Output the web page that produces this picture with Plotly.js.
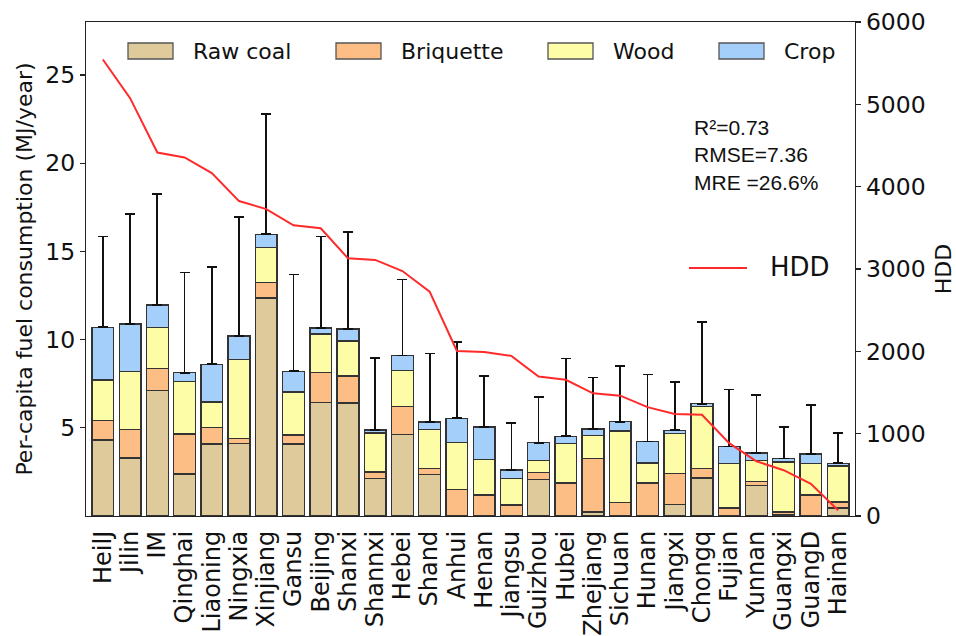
<!DOCTYPE html>
<html>
<head>
<meta charset="utf-8">
<script src="https://cdn.plot.ly/plotly-3.0.1.min.js"></script>
<style>
  html, body { margin: 0; padding: 0; background: #ffffff; }
  #chart { width: 956px; height: 636px; }
</style>
</head>
<body>
<div id="chart"></div>
<script>
// Provinces, ordered by heating degree days (coldest first)
const provinces = ['HeilJ', 'Jilin', 'IM', 'Qinghai', 'Liaoning', 'Ningxia', 'Xinjiang', 'Gansu',
  'Beijing', 'Shanxi', 'Shannxi', 'Hebei', 'Shand', 'Anhui', 'Henan', 'Jiangsu', 'Guizhou',
  'Hubei', 'Zhejiang', 'Sichuan', 'Hunan', 'Jiangxi', 'Chongq', 'Fujian', 'Yunnan', 'Guangxi',
  'GuangD', 'Hainan'];

// Per-capita fuel consumption by fuel type (MJ/year), stacked
const rawCoal = [4.31, 3.28, 7.13, 2.38, 4.07, 4.12, 12.35, 4.07, 6.45, 6.41, 2.14, 4.62, 2.35, 0,
  0.04, 0, 2.07, 0, 0.22, 0, 0, 0.65, 2.16, 0, 1.73, 0.05, 0, 0.46];
const briquette = [1.11, 1.64, 1.22, 2.26, 0.95, 0.29, 0.88, 0.53, 1.67, 1.52, 0.36, 1.57, 0.34, 1.50,
  1.16, 0.63, 0.41, 1.88, 3.04, 0.75, 1.88, 1.76, 0.53, 0.46, 0.24, 0.17, 1.18, 0.34];
const wood = [2.30, 3.28, 2.32, 2.99, 1.45, 4.46, 1.98, 2.42, 2.19, 2.00, 2.20, 2.05, 2.21, 2.68,
  2.00, 1.49, 0.68, 2.23, 1.30, 4.06, 1.13, 2.26, 3.50, 2.51, 1.19, 2.85, 1.79, 2.04];
const crop = [2.98, 2.68, 1.30, 0.49, 2.13, 1.33, 0.76, 1.18, 0.35, 0.67, 0.18, 0.85, 0.42, 1.36,
  1.85, 0.48, 0.99, 0.41, 0.38, 0.53, 1.21, 0.19, 0.17, 0.97, 0.42, 0.19, 0.55, 0.15];

// Upper error of the total consumption
const totalError = [5.15, 6.22, 6.30, 5.68, 5.53, 6.73, 6.82, 5.49, 5.18, 5.49, 4.07, 4.31, 3.89, 4.33,
  2.87, 2.68, 2.60, 4.40, 2.91, 3.16, 3.80, 2.72, 4.64, 3.23, 3.27, 1.79, 2.76, 1.72];

// Heating degree days per province
const hdd = [5545, 5075, 4415, 4355, 4165, 3825, 3728, 3530, 3495, 3130, 3110, 2975, 2725, 2005,
  1993, 1945, 1695, 1655, 1490, 1462, 1322, 1240, 1230, 885, 665, 556, 392, 70];

const fuelNames = ['Raw coal', 'Briquette', 'Wood', 'Crop'];
const fuelSeries = [rawCoal, briquette, wood, crop];
const fuelColors = ['#dfca9b', '#fdbe86', '#fdfda8', '#a4cffa'];

const leftTicks = [5, 10, 15, 20, 25];
const rightTicks = [0, 1000, 2000, 3000, 4000, 5000, 6000];
const statsLines = ['R\u00b2=0.73', 'RMSE=7.36', 'MRE =26.6%'];

// Plot frame in pixels
const W = 956, H = 636;
const M = { l: 86, r: 101, t: 22, b: 120 };
const plotW = W - M.l - M.r, plotH = H - M.t - M.b;
const px = x => (x - M.l) / plotW;
const py = y => (H - M.b - y) / plotH;

const edge = '#333333';
const font = 'DejaVu Sans, sans-serif';
const ink = '#111111';

const traces = fuelSeries.map((vals, i) => {
  const t = {
    type: 'bar',
    name: fuelNames[i],
    x: provinces,
    y: vals,
    marker: { color: fuelColors[i], line: { color: edge, width: 1.4 } },
    showlegend: false,
    hoverinfo: 'skip'
  };
  if (i === fuelSeries.length - 1) {
    t.error_y = {
      type: 'data', symmetric: false,
      array: totalError, arrayminus: totalError.map(() => 0),
      color: ink, thickness: 1.7, width: 5
    };
  }
  return t;
});

traces.push({
  type: 'scatter', mode: 'lines', name: 'HDD',
  x: provinces, y: hdd, yaxis: 'y2',
  line: { color: '#ff2a2a', width: 2 },
  showlegend: false, hoverinfo: 'skip'
});

// Legend keys for the fuel types, in a single row along the top
const legendPatchX = [128, 336, 548, 719];
const shapes = [];
const annotations = [];
fuelNames.forEach((name, i) => {
  const x0 = legendPatchX[i];
  shapes.push({
    type: 'rect', xref: 'paper', yref: 'paper',
    x0: px(x0), x1: px(x0 + 45), y0: py(59), y1: py(43),
    fillcolor: fuelColors[i], line: { color: '#555555', width: 1.3 }
  });
  annotations.push({
    xref: 'paper', yref: 'paper', x: px(x0 + 63), y: py(51),
    xanchor: 'left', yanchor: 'middle', showarrow: false,
    text: name, font: { family: font, size: 22, color: ink }
  });
});

// HDD key
shapes.push({
  type: 'line', xref: 'paper', yref: 'paper',
  x0: px(689), x1: px(747), y0: py(268), y1: py(268),
  line: { color: '#ff2a2a', width: 2 }
});
annotations.push({
  xref: 'paper', yref: 'paper', x: px(768), y: py(267),
  xanchor: 'left', yanchor: 'middle', showarrow: false,
  text: 'HDD', font: { family: font, size: 26, color: ink }
});

// Fit statistics
annotations.push({
  xref: 'paper', yref: 'paper', x: px(692), y: py(155),
  xanchor: 'left', yanchor: 'middle', align: 'left', showarrow: false,
  text: statsLines.join('<br>'),
  font: { family: 'Liberation Sans, Arial, sans-serif', size: 21, color: ink }
});

const layout = {
  width: W, height: H,
  margin: M,
  paper_bgcolor: '#ffffff', plot_bgcolor: '#ffffff',
  barmode: 'stack', bargap: 0.2,
  font: { family: font, color: ink },
  xaxis: {
    type: 'category', range: [-0.62, 27.62],
    tickmode: 'array', tickvals: provinces, ticktext: provinces,
    tickangle: -90, tickfont: { family: font, size: 24, color: ink },
    ticks: '', ticklabelstandoff: 4, showgrid: false, zeroline: false,
    showline: true, linecolor: '#222222', linewidth: 1.2, mirror: true
  },
  yaxis: {
    range: [0, 28], tickvals: leftTicks,
    ticks: 'outside', ticklen: 5, tickcolor: '#222222', tickwidth: 1.2,
    tickfont: { family: font, size: 23.5, color: ink },
    showgrid: false, zeroline: false,
    showline: true, linecolor: '#222222', linewidth: 1.2,
    title: { text: 'Per-capita fuel consumption (MJ/year)', font: { family: font, size: 22, color: ink }, standoff: 6 }
  },
  yaxis2: {
    overlaying: 'y', side: 'right', range: [0, 6000], tickvals: rightTicks,
    ticks: 'outside', ticklen: 5, tickcolor: '#222222', tickwidth: 1.2,
    tickfont: { family: font, size: 23.5, color: ink },
    showgrid: false, zeroline: false,
    showline: true, linecolor: '#222222', linewidth: 1.2,
    title: { text: 'HDD', font: { family: font, size: 22, color: ink }, standoff: 10 }
  },
  shapes: shapes,
  annotations: annotations
};

Plotly.newPlot('chart', traces, layout, { staticPlot: true });
</script>
</body>
</html>
